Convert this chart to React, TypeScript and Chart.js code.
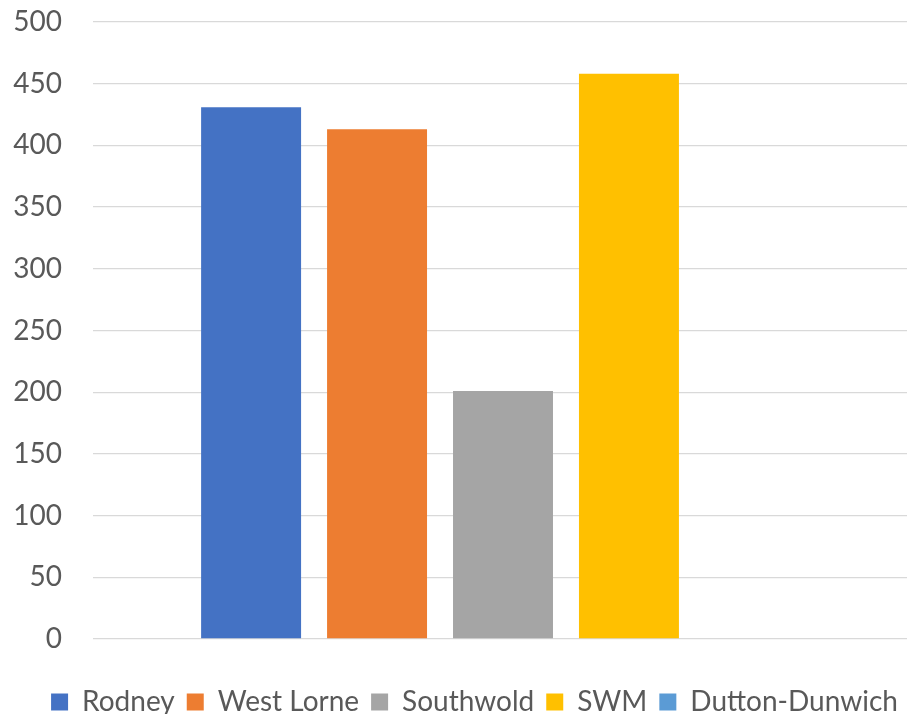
import React, { useEffect, useRef } from "react";
import { Chart, registerables } from "chart.js";

Chart.register(...registerables);

const categories = [""];
const seriesNames = ["Rodney", "West Lorne", "Southwold", "SWM", "Dutton-Dunwich"];
const seriesValues = [[431], [413], [201], [458], [0]];
const seriesColors = ["#4472C4", "#ED7D31", "#A5A5A5", "#FFC000", "#5B9BD5"];
const yMin = 0;
const yMax = 500;
const yStep = 50;

const FONT = "Lato, 'Liberation Sans', sans-serif";

const shiftLegend = {
  id: "shiftLegend",
  afterLayout(chart: any) {
    if (chart.legend) {
      chart.legend.left += 18;
      chart.legend.right += 18;
    }
  },
};

export default function App() {
  const ref = useRef<HTMLCanvasElement | null>(null);

  useEffect(() => {
    document.body.style.margin = "0";
    const canvas = ref.current;
    if (!canvas) return;
    const chart = new Chart(canvas, {
      type: "bar",
      data: {
        labels: categories,
        datasets: seriesNames.map((name, i) => ({
          label: name,
          data: seriesValues[i],
          backgroundColor: seriesColors[i],
          borderWidth: 0,
          categoryPercentage: 0.768,
          barPercentage: 0.7937,
        })),
      },
      plugins: [shiftLegend],
      options: {
        responsive: false,
        animation: false,
        maintainAspectRatio: false,
        layout: { padding: { top: 22, right: 0, bottom: 0, left: 0 } },
        plugins: {
          tooltip: { enabled: false },
          legend: {
            position: "bottom",
            align: "center",
            labels: {
              boxWidth: 17,
              boxHeight: 17,
              padding: 12,
              color: "#595959",
              font: { family: FONT, size: 28 },
            },
          },
        },
        scales: {
          x: {
            display: true,
            afterFit: (s: any) => {
              s.height = 37;
            },
            ticks: { display: false },
            border: { display: false },
            grid: { display: false },
          },
          y: {
            min: yMin,
            max: yMax,
            afterFit: (s: any) => {
              s.width = 93;
            },
            ticks: {
              stepSize: yStep,
              padding: 0,
              color: "#595959",
              font: { family: FONT, size: 28 },
            },
            border: { display: false },
            grid: {
              color: "#D9D9D9",
              lineWidth: 1.3,
              drawTicks: true,
              tickLength: 31,
              tickColor: "rgba(0,0,0,0)",
            },
          },
        },
      },
    });
    return () => chart.destroy();
  }, []);

  return (
    <div style={{ width: 907, height: 714, overflow: "hidden", position: "relative" }}>
      <canvas ref={ref} width={913} height={726} style={{ display: "block" }} />
    </div>
  );
}
